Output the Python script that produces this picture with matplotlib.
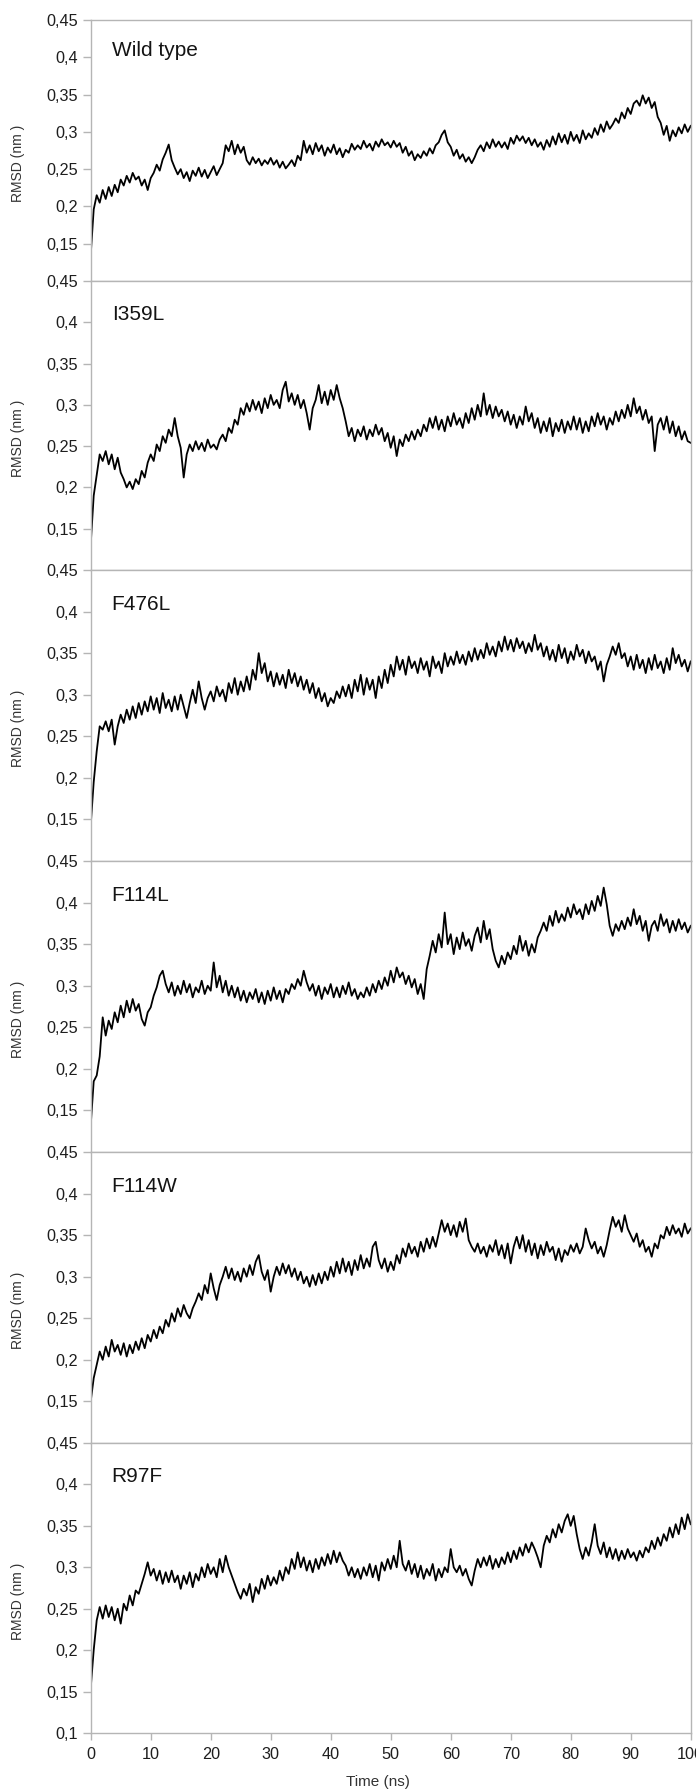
import matplotlib
matplotlib.use("Agg")
import matplotlib.pyplot as plt
import numpy as np

plt.rcParams['font.family'] = ['Liberation Sans', 'DejaVu Sans']

# ---------------- data (RMSD in 1e-3 nm, sampled every 0.5 ns from 0 to 100 ns) -------------
panel_names = ["Wild type", "I359L", "F476L", "F114L", "F114W", "R97F"]

rmsd_wt = [
    135, 196, 215, 205, 222, 210, 226, 214, 229, 219,
    236, 228, 241, 232, 245, 236, 240, 228, 236, 222,
    238, 245, 256, 248, 263, 272, 283, 262, 252, 243,
    250, 238, 246, 234, 248, 241, 252, 240, 249, 238,
    246, 254, 242, 250, 258, 282, 274, 288, 270, 283,
    272, 280, 262, 256, 266, 258, 264, 255, 262, 257,
    265, 256, 262, 252, 260, 251, 256, 262, 254, 268,
    262, 288, 272, 282, 270, 285, 274, 282, 268, 279,
    272, 283, 270, 278, 266, 276, 272, 284, 276, 282,
    277, 288, 279, 284, 275, 287, 280, 290, 282, 286,
    279, 288, 280, 285, 272, 280, 268, 274, 262, 270,
    265, 274, 268, 278, 271, 282, 286, 296, 302, 286,
    280, 268, 276, 264, 270, 260, 266, 258, 266, 276,
    282, 274, 286, 278, 290, 280, 287, 279, 286, 277,
    292, 284, 295, 288, 294, 285, 292, 282, 290, 280,
    286, 276, 289, 280, 294, 283, 298, 286, 296, 284,
    300, 288, 296, 285, 302, 290, 298, 292, 305, 296,
    310, 300, 314, 304, 310, 318, 312, 326, 318, 332,
    324, 338, 342, 335, 349, 338, 346, 332, 340, 320,
    312, 296, 308, 288, 302, 294, 306, 298, 310, 300,
    308]

rmsd_i359l = [
    131, 190, 215, 240, 232, 244, 228, 240, 222, 236,
    218, 210, 200, 207, 198, 210, 204, 220, 212, 230,
    240, 232, 252, 244, 262, 254, 270, 262, 284, 262,
    248, 212, 240, 252, 244, 256, 246, 254, 244, 258,
    248, 252, 246, 258, 264, 256, 272, 266, 282, 276,
    296, 288, 302, 292, 306, 294, 304, 290, 308, 296,
    312, 300, 306, 296, 318, 328, 304, 314, 300, 312,
    296, 306, 290, 270, 296, 306, 324, 302, 316, 300,
    318, 306, 324, 308, 296, 280, 262, 272, 256, 270,
    262, 274, 258, 270, 262, 276, 264, 272, 256, 266,
    248, 262, 238, 258, 250, 264, 256, 268, 258, 270,
    262, 276, 268, 284, 272, 286, 270, 282, 268, 286,
    274, 290, 276, 284, 272, 290, 278, 296, 282, 300,
    286, 314, 288, 300, 284, 298, 286, 294, 280, 292,
    276, 288, 272, 286, 276, 298, 280, 290, 272, 284,
    266, 280, 268, 284, 262, 278, 268, 282, 266, 280,
    270, 286, 270, 284, 266, 280, 268, 286, 274, 290,
    276, 286, 270, 284, 276, 292, 280, 294, 284, 300,
    286, 308, 290, 298, 282, 294, 278, 286, 244, 276,
    284, 270, 286, 266, 280, 262, 274, 258, 268, 256,
    254]

rmsd_f476l = [
    143, 195, 232, 262, 258, 268, 256, 270, 240, 262,
    276, 266, 282, 270, 286, 272, 290, 276, 292, 280,
    298, 282, 296, 278, 302, 284, 294, 280, 298, 282,
    300, 286, 272, 290, 306, 290, 316, 296, 282, 296,
    304, 292, 310, 298, 306, 292, 314, 302, 320, 300,
    316, 304, 322, 306, 330, 318, 350, 326, 338, 316,
    328, 310, 326, 312, 324, 308, 330, 314, 326, 310,
    322, 306, 318, 302, 314, 296, 308, 292, 302, 286,
    296, 290, 304, 296, 310, 298, 312, 296, 318, 304,
    324, 300, 320, 306, 318, 296, 322, 308, 330, 314,
    336, 322, 346, 330, 342, 324, 346, 332, 340, 326,
    344, 330, 340, 322, 346, 332, 340, 326, 350, 334,
    346, 336, 352, 338, 348, 336, 352, 340, 356, 342,
    354, 344, 362, 348, 358, 346, 364, 352, 370, 354,
    366, 352, 368, 356, 364, 350, 362, 352, 372, 354,
    362, 346, 358, 342, 354, 340, 360, 344, 356, 338,
    352, 342, 360, 346, 354, 338, 352, 340, 346, 330,
    340, 316, 336, 346, 358, 348, 362, 344, 350, 334,
    346, 330, 348, 332, 342, 326, 344, 330, 348, 332,
    340, 326, 344, 330, 356, 338, 348, 334, 342, 328,
    340]

rmsd_f114l = [
    132, 185, 192, 215, 262, 240, 258, 248, 268, 256,
    276, 262, 282, 268, 284, 270, 278, 260, 252, 268,
    274, 288, 298, 312, 318, 302, 292, 304, 288, 300,
    290, 306, 292, 302, 286, 298, 292, 306, 290, 300,
    294, 328, 298, 312, 292, 306, 288, 300, 286, 298,
    282, 294, 280, 292, 284, 296, 280, 292, 278, 294,
    282, 298, 284, 294, 280, 296, 290, 302, 296, 308,
    300, 318, 304, 294, 302, 288, 300, 284, 298, 290,
    302, 286, 298, 286, 300, 290, 304, 288, 296, 284,
    292, 286, 298, 288, 302, 292, 306, 296, 310, 300,
    318, 304, 322, 310, 316, 302, 312, 298, 308, 290,
    302, 284, 320, 336, 354, 340, 362, 346, 388, 350,
    362, 338, 358, 344, 364, 348, 356, 342, 360, 370,
    352, 378, 356, 368, 344, 330, 322, 336, 326, 340,
    332, 348, 338, 360, 342, 354, 336, 350, 340, 358,
    366, 376, 366, 384, 372, 390, 376, 386, 378, 394,
    382, 398, 386, 392, 380, 398, 386, 402, 390, 408,
    396, 418, 398, 372, 360, 374, 366, 378, 368, 382,
    372, 392, 374, 384, 366, 378, 354, 372, 378, 366,
    386, 372, 380, 364, 378, 366, 380, 368, 376, 364,
    372]

rmsd_f114w = [
    150, 178, 194, 210, 200, 216, 204, 224, 210, 218,
    206, 220, 204, 218, 208, 222, 212, 226, 214, 230,
    222, 236, 226, 240, 232, 248, 240, 256, 246, 262,
    252, 266, 256, 250, 262, 270, 280, 272, 290, 280,
    304, 286, 272, 290, 300, 312, 298, 310, 296, 306,
    294, 310, 300, 314, 302, 318, 326, 306, 296, 308,
    282, 300, 312, 302, 316, 304, 314, 300, 310, 296,
    306, 292, 300, 288, 302, 290, 304, 292, 306, 296,
    312, 300, 318, 304, 322, 306, 318, 302, 320, 308,
    326, 310, 322, 312, 336, 342, 320, 310, 322, 306,
    318, 308, 326, 316, 334, 324, 340, 328, 336, 324,
    342, 330, 346, 334, 348, 336, 352, 368, 354, 364,
    350, 362, 348, 366, 354, 370, 344, 336, 330, 340,
    328, 336, 324, 338, 330, 344, 326, 338, 322, 340,
    316, 336, 348, 334, 350, 330, 344, 326, 340, 322,
    338, 326, 342, 330, 336, 320, 334, 318, 332, 326,
    338, 330, 340, 328, 336, 358, 344, 334, 342, 328,
    336, 324, 338, 356, 372, 360, 368, 354, 374, 358,
    350, 342, 352, 336, 344, 330, 336, 324, 340, 334,
    350, 346, 360, 350, 362, 352, 358, 348, 364, 352,
    358]

rmsd_r97f = [
    154, 200, 236, 252, 238, 254, 240, 252, 236, 250,
    232, 256, 248, 266, 254, 272, 268, 280, 292, 306,
    290, 298, 284, 296, 280, 294, 282, 296, 282, 290,
    274, 290, 280, 294, 276, 292, 284, 300, 288, 304,
    292, 300, 288, 310, 294, 314, 300, 290, 280, 270,
    262, 274, 266, 280, 258, 276, 268, 286, 274, 290,
    278, 288, 280, 296, 284, 300, 292, 310, 298, 318,
    300, 312, 296, 308, 294, 310, 298, 312, 302, 316,
    304, 320, 306, 318, 308, 302, 290, 300, 288, 298,
    286, 300, 290, 304, 288, 302, 284, 306, 296, 310,
    298, 314, 300, 332, 304, 296, 308, 292, 304, 288,
    302, 286, 298, 290, 304, 284, 298, 288, 300, 294,
    322, 300, 294, 302, 290, 298, 286, 278, 296, 310,
    300, 312, 302, 314, 298, 310, 300, 312, 304, 318,
    306, 320, 310, 324, 314, 328, 318, 330, 322, 312,
    300, 326, 338, 330, 346, 336, 352, 342, 356, 364,
    350, 362, 340, 322, 310, 324, 314, 330, 352, 326,
    316, 330, 312, 324, 310, 322, 308, 320, 310, 322,
    312, 318, 308, 320, 312, 324, 318, 332, 322, 336,
    326, 340, 332, 348, 336, 352, 340, 360, 346, 364,
    352]

all_series = [rmsd_wt, rmsd_i359l, rmsd_f476l, rmsd_f114l, rmsd_f114w, rmsd_r97f]

ytick_values = [0.1, 0.15, 0.2, 0.25, 0.3, 0.35, 0.4, 0.45]
ytick_labels = ["0,1", "0,15", "0,2", "0,25", "0,3", "0,35", "0,4", "0,45"]
xtick_values = [0, 10, 20, 30, 40, 50, 60, 70, 80, 90, 100]
xtick_labels = ["0", "10", "20", "30", "40", "50", "60", "70", "80", "90", "100"]
y_label = "RMSD (nm )"
x_label = "Time (ns)"

# ---------------- layout ----------------
W, H = 696, 1791
fig = plt.figure(figsize=(W / 100, H / 100), dpi=100)
edges = [20, 281, 570, 861, 1152, 1443, 1733]
left_px, right_px = 90.7, 690.7
grey = "#b5b5b5"
text_col = "#1e1e1e"

for i, (name, vals) in enumerate(zip(panel_names, all_series)):
    top, bot = edges[i], edges[i + 1]
    h = bot - top
    ax = fig.add_axes([left_px / W, 1 - bot / H, (right_px - left_px) / W, h / H])
    t = np.linspace(0, 100, len(vals))
    ax.plot(t, np.array(vals) / 1000.0, color="black", lw=1.3)
    ax.set_xlim(0, 100)
    ax.set_ylim(0.1, 0.45)
    last = (i == len(panel_names) - 1)
    if last:
        ax.set_yticks(ytick_values, ytick_labels)
        ax.set_xticks(xtick_values, xtick_labels)
        ax.tick_params(axis="x", direction="out", length=5.2, width=1.0, color=grey,
                       labelsize=11.7, labelcolor=text_col, pad=5)
    else:
        ax.set_yticks(ytick_values[1:], ytick_labels[1:])
        ax.set_xticks([])
    ax.tick_params(axis="y", direction="out", length=5.5, width=1.0, color=grey,
                   labelsize=11.7, labelcolor=text_col, pad=3.4)
    for sp in ax.spines.values():
        sp.set_color(grey)
        sp.set_linewidth(1.0)
    off = 30 if i == 0 else 34
    ax.text(0.035, 1 - off / h, name, transform=ax.transAxes, fontsize=15,
            ha="left", va="center", color="#141414")
    cy = (top + bot) / 2 + 13
    fig.text(18.3 / W, 1 - cy / H, y_label, rotation=90, fontsize=10,
             ha="center", va="center", color="#333333")

fig.text(378 / W, 1 - 1781.7 / H, x_label, fontsize=11, ha="center", va="center",
         color="#333333")

fig.savefig("out.png", dpi=100, facecolor="white")
